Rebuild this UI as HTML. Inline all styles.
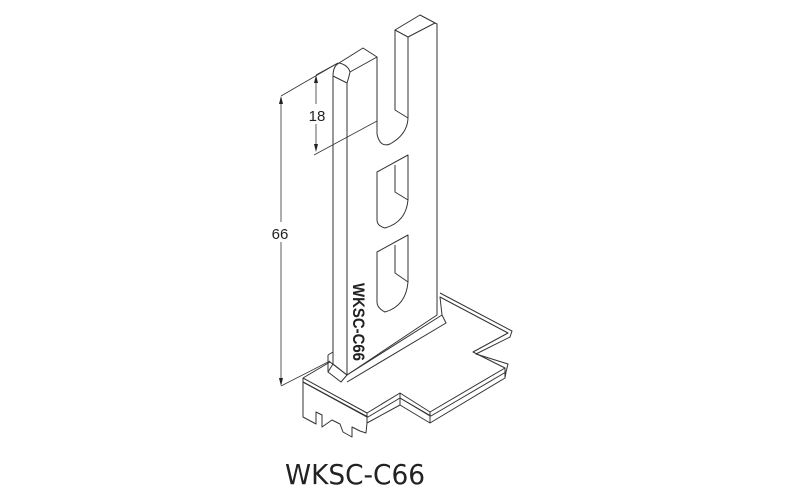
<!DOCTYPE html>
<html><head><style>
html,body{margin:0;padding:0;background:#fff;width:800px;height:500px;overflow:hidden}
svg{display:block}
</style></head><body>
<svg width="800" height="500" viewBox="0 0 800 500" xmlns="http://www.w3.org/2000/svg">
<g fill="none" stroke="#333" stroke-width="1" stroke-linejoin="round">
<!-- base plate top face -->
<path d="M303,378 L330,362 L347,375 L442,315 L440,297 L508,333 L473,352 L505,368 L430,412 L400,393 L367,413 L303,378 Z" fill="#fff"/>
<path d="M440,293 L512,331 L510,337 L476,354 L508,364 L506,372 L431,416 L400,398 L368,417 L303,382"/>
<!-- base plate front/side thickness -->
<path d="M303,378 L303,417 L316,424 L316,412 L322,415 L322,427 L332,420 L340,424 L343,432 L352,437 L352,427 L360,431 L366,433 L367,423 L400,405 L430,423 L505,378 L506,372"/>
<path d="M367,413 L367,423 M400,393 L400,405 M430,412 L430,423 M505,368 L505,378"/>
<path d="M303,382 L367,417 M400,398 L430,416"/>
<!-- column -->
<path d="M333,76 L333,364 L347,375 L347,83 M333,76 Q333,66 339,63 L363,48 L377,57 L377,134 Q380,148 390,144 Q408,134 408,117 L408,37 L395,30 L420,15 L437,24 L437,315 L347,375"/>
<path d="M339,63 Q348,65 350,72 M333,76 L347,83 M347,83 Q349,77 350,72 L377,57 M395,30 L395,110 L408,118 M408,37 L435,23"/>
<path d="M333,364 L328,372 L341,382 L347,375 M442,315 L446,323 L347,382"/>
<path d="M328,355 L333,352 M328,355 L328,372"/>
<!-- window 2 -->
<path d="M377,172 L408,155 L408,200 Q406,222 385,228 Q377,226 377,220 Z"/>
<path d="M395,165 L395,192 L408,200"/>
<!-- window 3 -->
<path d="M377,252 L408,235 L408,282 Q406,306 385,312 Q377,308 377,302 Z"/>
<path d="M395,245 L395,273 L408,282"/>
</g>
<!-- dimensions -->
<g stroke="#333" stroke-width="0.8" fill="none">
<path d="M281,99 L281,383"/>
<path d="M281,96 L338,63"/>
<path d="M281,386 L330,361"/>
<path d="M316,77 L316,150"/>
<path d="M316,75 L338,63"/>
<path d="M314,155 L377,121"/>
</g>
<g fill="#222">
<path d="M281,96 L279,104 L283,104 Z"/>
<path d="M281,386 L279,378 L283,378 Z"/>
<path d="M316,75 L314,83 L318,83 Z"/>
<path d="M316,152 L314,144 L318,144 Z"/>
</g>
<rect x="270" y="222" width="22" height="20" fill="#fff"/>
<rect x="306" y="104" width="22" height="20" fill="#fff"/>
<text x="280" y="239" font-family="Liberation Sans, sans-serif" font-size="15" text-anchor="middle" fill="#222">66</text>
<text x="317" y="121" font-family="Liberation Sans, sans-serif" font-size="15" text-anchor="middle" fill="#222">18</text>
<text transform="translate(353,283) rotate(90)" font-family="Liberation Sans, sans-serif" font-size="17" font-weight="bold" fill="#222" textLength="78" lengthAdjust="spacingAndGlyphs">WKSC-C66</text>
<text x="285" y="484" font-family="DejaVu Sans, Liberation Sans, sans-serif" font-size="28" fill="#222" textLength="140" lengthAdjust="spacingAndGlyphs">WKSC-C66</text>
</svg>
</body></html>
